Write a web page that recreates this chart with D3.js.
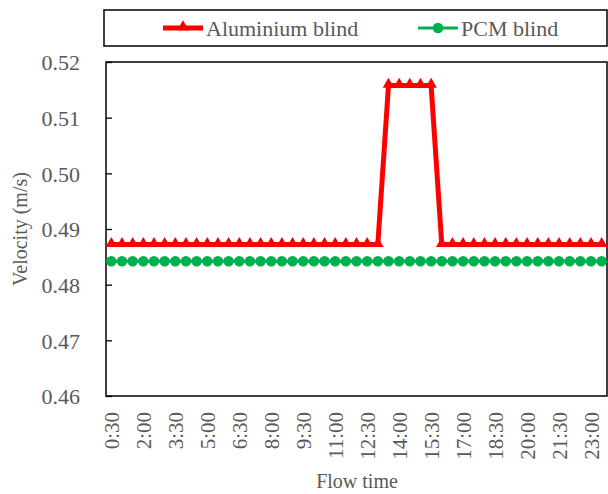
<!DOCTYPE html>
<html>
<head>
<meta charset="utf-8">
<script src="https://cdn.jsdelivr.net/npm/d3@7"></script>
<style>
  body { margin: 0; background: #fff; }
</style>
</head>
<body>
<div id="chart"></div>
<script>
// flow time categories (every 30 min)
const times = ["0:30","1:00","1:30","2:00","2:30","3:00","3:30","4:00","4:30","5:00",
  "5:30","6:00","6:30","7:00","7:30","8:00","8:30","9:00","9:30","10:00",
  "10:30","11:00","11:30","12:00","12:30","13:00","13:30","14:00","14:30","15:00",
  "15:30","16:00","16:30","17:00","17:30","18:00","18:30","19:00","19:30","20:00",
  "20:30","21:00","21:30","22:00","22:30","23:00","23:30"];

const tickLabels = ["0:30","2:00","3:30","5:00","6:30","8:00","9:30","11:00",
  "12:30","14:00","15:30","17:00","18:30","20:00","21:30","23:00"];

const aluminium = [0.4872,0.4872,0.4872,0.4872,0.4872,0.4872,0.4872,0.4872,0.4872,0.4872,
  0.4872,0.4872,0.4872,0.4872,0.4872,0.4872,0.4872,0.4872,0.4872,0.4872,
  0.4872,0.4872,0.4872,0.4872,0.4872,0.4872,0.5158,0.5158,0.5158,0.5158,
  0.5158,0.4872,0.4872,0.4872,0.4872,0.4872,0.4872,0.4872,0.4872,0.4872,
  0.4872,0.4872,0.4872,0.4872,0.4872,0.4872,0.4872];

const pcm = [0.4842,0.4842,0.4842,0.4842,0.4842,0.4842,0.4842,0.4842,0.4842,0.4842,
  0.4842,0.4842,0.4842,0.4842,0.4842,0.4842,0.4842,0.4842,0.4842,0.4842,
  0.4842,0.4842,0.4842,0.4842,0.4842,0.4842,0.4842,0.4842,0.4842,0.4842,
  0.4842,0.4842,0.4842,0.4842,0.4842,0.4842,0.4842,0.4842,0.4842,0.4842,
  0.4842,0.4842,0.4842,0.4842,0.4842,0.4842,0.4842];

const yTicks = [0.46, 0.47, 0.48, 0.49, 0.50, 0.51, 0.52];

const width = 608, height = 494;
const margin = {top: 62, right: 1, bottom: 98, left: 106};
const font = '"Liberation Serif", "Times New Roman", Times, serif';
const textColor = "#595959";

const svg = d3.select("#chart").append("svg")
  .attr("width", width)
  .attr("height", height)
  .style("font-family", font);

const x = d3.scalePoint()
  .domain(times)
  .range([margin.left, width - margin.right])
  .padding(0.5);

const y = d3.scaleLinear()
  .domain([0.46, 0.52])
  .range([height - margin.bottom, margin.top]);

// y axis, ticks pointing inside
const yAxis = svg.append("g")
  .attr("transform", `translate(${margin.left},0)`)
  .call(d3.axisRight(y).tickValues(yTicks).tickSize(6).tickFormat(d3.format(".2f")));
yAxis.attr("font-family", null);
yAxis.select(".domain").remove();
yAxis.selectAll("line").attr("stroke", "#000").attr("stroke-width", 1.3);
yAxis.selectAll("text")
  .attr("x", -26)
  .attr("text-anchor", "end")
  .attr("dy", "0.35em")
  .attr("fill", textColor)
  .style("font-family", font)
  .style("font-size", "22px");

// x axis labels rotated
const xAxis = svg.append("g")
  .attr("transform", `translate(0,${height - margin.bottom})`)
  .call(d3.axisBottom(x).tickValues(tickLabels).tickSize(0));
xAxis.attr("font-family", null);
xAxis.select(".domain").remove();
xAxis.selectAll("text")
  .attr("transform", "rotate(-90)")
  .attr("text-anchor", "end")
  .attr("x", -16)
  .attr("y", 0)
  .attr("dy", "0.35em")
  .attr("fill", textColor)
  .style("font-family", font)
  .style("font-size", "21px");

// plot frame
svg.append("rect")
  .attr("x", margin.left)
  .attr("y", margin.top)
  .attr("width", width - margin.right - margin.left)
  .attr("height", height - margin.bottom - margin.top)
  .attr("fill", "none")
  .attr("stroke", "#000")
  .attr("stroke-width", 1.5);

const line = d3.line()
  .x((d, i) => x(times[i]))
  .y(d => y(d));

const red = "#ff0000", green = "#00b050";
const tri = d3.symbol().type(d3.symbolTriangle).size(58);

// PCM blind
svg.append("path")
  .datum(pcm)
  .attr("d", line)
  .attr("fill", "none")
  .attr("stroke", green)
  .attr("stroke-width", 3);
svg.selectAll(".pcm")
  .data(pcm)
  .join("circle")
  .attr("class", "pcm")
  .attr("cx", (d, i) => x(times[i]))
  .attr("cy", d => y(d))
  .attr("r", 5.3)
  .attr("fill", green);

// Aluminium blind
svg.append("path")
  .datum(aluminium)
  .attr("d", line)
  .attr("fill", "none")
  .attr("stroke", red)
  .attr("stroke-width", 5);
svg.selectAll(".alu")
  .data(aluminium)
  .join("path")
  .attr("class", "alu")
  .attr("d", tri)
  .attr("transform", (d, i) => `translate(${x(times[i])},${y(d) - 1})`)
  .attr("fill", red);

// axis titles
svg.append("text")
  .attr("transform", `translate(27,${(margin.top + height - margin.bottom) / 2}) rotate(-90)`)
  .attr("text-anchor", "middle")
  .attr("fill", textColor)
  .style("font-size", "20px")
  .text("Velocity (m/s)");

svg.append("text")
  .attr("x", (margin.left + width) / 2)
  .attr("y", 488)
  .attr("text-anchor", "middle")
  .attr("fill", textColor)
  .style("font-size", "20px")
  .text("Flow time");

// legend
const legend = svg.append("g");
legend.append("rect")
  .attr("x", 104).attr("y", 10)
  .attr("width", 503).attr("height", 36)
  .attr("fill", "#fff")
  .attr("stroke", "#000")
  .attr("stroke-width", 1.5);

const items = [
  {name: "Aluminium blind", color: red, x0: 163, marker: "tri"},
  {name: "PCM blind", color: green, x0: 418, marker: "circle"}
];
items.forEach(it => {
  const g = legend.append("g");
  g.append("line")
    .attr("x1", it.x0).attr("x2", it.x0 + 40)
    .attr("y1", 28).attr("y2", 28)
    .attr("stroke", it.color)
    .attr("stroke-width", it.marker === "tri" ? 5 : 3);
  if (it.marker === "tri") {
    g.append("path").attr("d", tri)
      .attr("transform", `translate(${it.x0 + 20},27)`)
      .attr("fill", it.color);
  } else {
    g.append("circle").attr("cx", it.x0 + 20).attr("cy", 28).attr("r", 5.3)
      .attr("fill", it.color);
  }
  g.append("text")
    .attr("x", it.x0 + 43)
    .attr("y", 28)
    .attr("dy", "0.35em")
    .attr("fill", textColor)
    .style("font-size", "22px")
    .text(it.name);
});
</script>
</body>
</html>
